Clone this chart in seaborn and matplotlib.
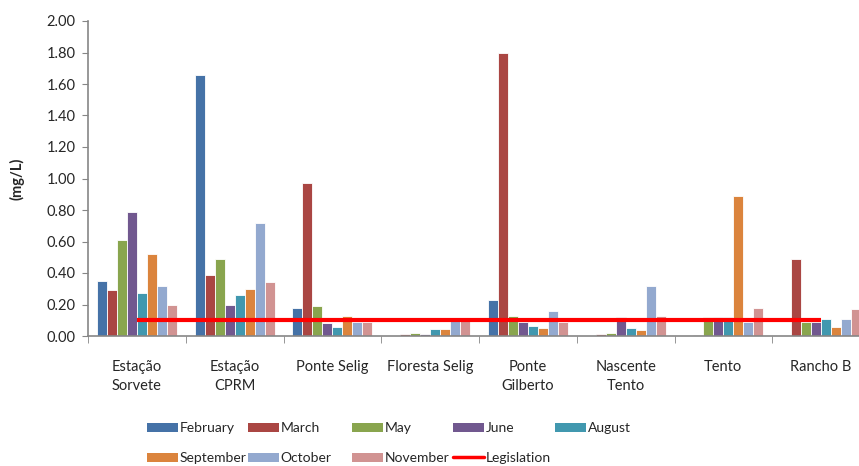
import matplotlib
matplotlib.use("Agg")
import matplotlib.pyplot as plt
import seaborn as sns
import numpy as np
import pandas as pd
from matplotlib.lines import Line2D
from matplotlib.patches import Patch

sites = ["Estação\nSorvete", "Estação\nCPRM", "Ponte Selig", "Floresta Selig",
         "Ponte\nGilberto", "Nascente\nTento", "Tento", "Rancho B"]
months = ["February", "March", "May", "June", "August", "September", "October", "November"]

february  = [0.35, 1.66, 0.18, 0.00, 0.23, 0.00, 0.00, 0.00]
march     = [0.29, 0.39, 0.97, 0.015, 1.80, 0.015, 0.005, 0.49]
may       = [0.61, 0.49, 0.19, 0.02, 0.13, 0.02, 0.12, 0.09]
june      = [0.79, 0.20, 0.08, 0.015, 0.09, 0.12, 0.12, 0.09]
august    = [0.27, 0.26, 0.055, 0.045, 0.065, 0.05, 0.12, 0.11]
september = [0.52, 0.30, 0.13, 0.045, 0.05, 0.04, 0.89, 0.06]
october   = [0.32, 0.72, 0.09, 0.11, 0.16, 0.32, 0.09, 0.11]
november  = [0.20, 0.34, 0.09, 0.10, 0.09, 0.13, 0.18, 0.17]
legislation = [0.10, 0.10, 0.10, 0.10, 0.10, 0.10, 0.10, 0.10]

colors = ["#4572A7", "#AA4643", "#89A54E", "#71588F", "#4198AF", "#DB843D", "#93A9CF", "#D19392"]

series = [february, march, may, june, august, september, october, november]
rows = []
for m, vals in zip(months, series):
    for s, v in zip(sites, vals):
        rows.append({"site": s, "month": m, "value": v})
df = pd.DataFrame(rows)

sns.set_style("white")
plt.rcParams["font.family"] = ["Lato", "DejaVu Sans"]

fig = plt.figure(figsize=(8.59, 4.66), dpi=100)
ax = fig.add_axes([88/859, 1-336/466, 782/859, (336-21)/466])

sns.barplot(data=df, x="site", y="value", hue="month", order=sites, hue_order=months,
            palette=colors, saturation=1, width=0.82, edgecolor="white", linewidth=0.6,
            ax=ax, legend=False, errorbar=None)

ax.plot(np.arange(len(sites)), legislation, color="#FF0000", lw=3, solid_capstyle="butt", zorder=5)

ax.set_xlim(-0.5, len(sites) - 0.5)
ax.set_ylim(0, 2.0)
ax.set_yticks(np.arange(0, 2.01, 0.2))
ax.set_yticklabels([f"{v:.2f}" for v in np.arange(0, 2.01, 0.2)], fontsize=10.5)
ax.set_xticks(np.arange(len(sites)))
ax.set_xticklabels(sites, fontsize=10.5, linespacing=1.45)
ax.set_xticks(np.arange(len(sites) + 1) - 0.5, minor=True)
ax.tick_params(axis="x", which="major", length=0, pad=17)
ax.tick_params(axis="x", which="minor", length=5, color="#868686", direction="out", bottom=True)
ax.tick_params(axis="y", length=4, color="#868686", direction="out", left=True, pad=5)
ax.set_xlabel("")
ax.set_ylabel("(mg/L)", fontsize=10.5, fontweight="bold", labelpad=16)
for side in ["top", "right"]:
    ax.spines[side].set_visible(False)
for side in ["left", "bottom"]:
    ax.spines[side].set_color("#868686")
    ax.spines[side].set_linewidth(1.2)

handles = [Patch(facecolor=c, edgecolor="none") for c in colors]
handles.append(Line2D([0], [0], color="#FF0000", lw=2.5))
labels = months + ["Legislation"]
columns = [[0, 5], [1, 6], [2, 7], [3, 8], [4]]
col_x = [147, 248, 352, 453, 555]
for idx, x in zip(columns, col_x):
    fig.legend([handles[i] for i in idx], [labels[i] for i in idx], ncol=1,
               loc="upper left", bbox_to_anchor=(x/859, 1-422/466), frameon=False,
               fontsize=10, handlelength=2.2, handleheight=0.6, handletextpad=0.15,
               labelspacing=1.3, borderpad=0, borderaxespad=0)

fig.savefig("out.png", dpi=100)
